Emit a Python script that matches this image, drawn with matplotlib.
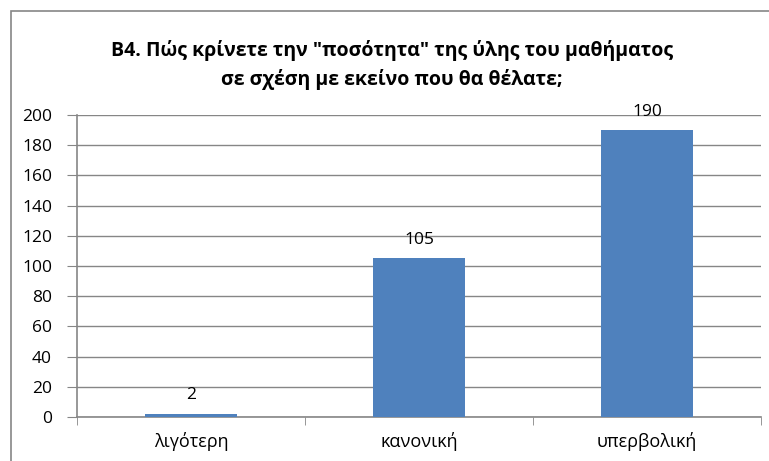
import matplotlib
matplotlib.use("Agg")
import matplotlib.pyplot as plt
from matplotlib.patches import Rectangle

categories = ["λιγότερη", "κανονική", "υπερβολική"]
values = [2, 105, 190]
y_ticks = list(range(0, 201, 20))
title_txt = "Β4. Πώς κρίνετε την \"ποσότητα\" της ύλης του μαθήματος\nσε σχέση με εκείνο που θα θέλατε;"

plt.rcParams["font.family"] = ["Open Sans", "DejaVu Sans"]

fig = plt.figure(figsize=(7.69, 4.61), dpi=100)
fig.patches.append(Rectangle((11 / 769, -0.1), 1.0, 1 - 11 / 461 + 0.1,
                             transform=fig.transFigure, fill=False,
                             edgecolor="#868686", linewidth=1.2))

ax = fig.add_axes([77 / 769, 1 - 417 / 461, (761 - 77) / 769, (417 - 115) / 461])

x = list(range(len(categories)))
ax.bar(x, values, width=0.4, color="#4F81BD", zorder=3)
for xi, v in zip(x, values):
    ax.text(xi, v + 7, str(v), ha="center", va="bottom", fontsize=12.5)

ax.set_xlim(-0.5, len(categories) - 0.5)
ax.set_ylim(0, 200)
ax.set_yticks(y_ticks)
ax.tick_params(axis="y", labelsize=12.5, length=7, color="#868686", pad=11)
ax.set_xticks(x)
ax.set_xticklabels(categories, fontsize=13)
ax.tick_params(axis="x", length=0, pad=11)
# category boundary ticks
ax.set_xticks([-0.5, 0.5, 1.5, 2.5], minor=True)
ax.tick_params(axis="x", which="minor", length=6, color="#868686", direction="out")

ax.grid(True, axis="y", color="#868686", linewidth=1, zorder=0)
for side in ["top", "right"]:
    ax.spines[side].set_visible(False)
for side in ["left", "bottom"]:
    ax.spines[side].set_color("#868686")
    ax.spines[side].set_linewidth(1.2)

fig.text(392 / 769, 1 - 65 / 461, title_txt, ha="center", va="center",
         fontsize=14, fontweight="bold", linespacing=1.5)

fig.savefig("out.png", dpi=100)
